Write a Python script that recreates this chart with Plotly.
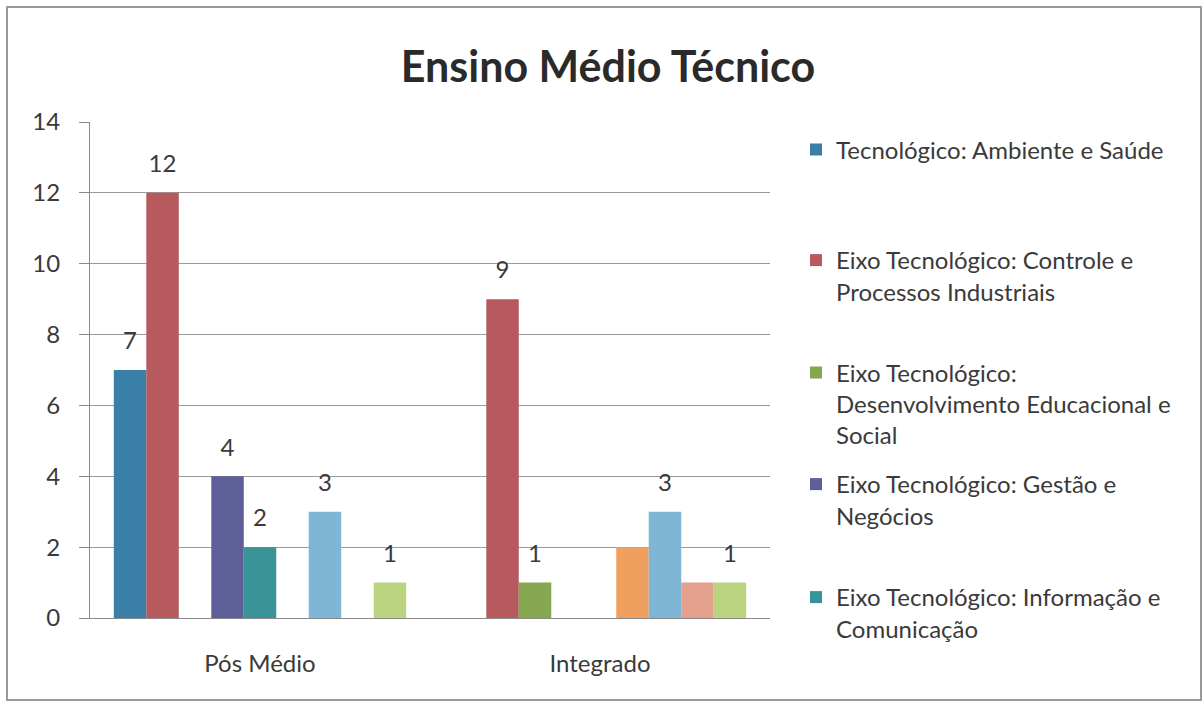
import plotly.graph_objects as go

# ---- data ----
categories = ["Pós Médio", "Integrado"]

series_names = [
    "Tecnológico: Ambiente e Saúde",
    "Eixo Tecnológico: Controle e<br>Processos Industriais",
    "Eixo Tecnológico:<br>Desenvolvimento Educacional e<br>Social",
    "Eixo Tecnológico: Gestão e<br>Negócios",
    "Eixo Tecnológico: Informação e<br>Comunicação",
    "Série 6",
    "Série 7",
    "Série 8",
    "Série 9",
]

ambiente_saude = [7, 0]
controle_processos = [12, 9]
desenvolvimento_educacional = [0, 1]
gestao_negocios = [4, 0]
informacao_comunicacao = [2, 0]
serie_6 = [0, 2]
serie_7 = [3, 3]
serie_8 = [0, 1]
serie_9 = [1, 1]

series_values = [
    ambiente_saude, controle_processos, desenvolvimento_educacional,
    gestao_negocios, informacao_comunicacao, serie_6, serie_7, serie_8, serie_9,
]

# which data labels are visible in the original
label_visible = [
    [True, False],
    [True, True],
    [False, True],
    [True, False],
    [True, False],
    [False, False],
    [True, True],
    [False, False],
    [True, True],
]

y_ticks = [0, 2, 4, 6, 8, 10, 12, 14]

# ---- styles ----
colors = ["#3A7FA8", "#B65A5E", "#84A74F", "#5E5E98", "#3A9396",
          "#EFA05E", "#7FB5D5", "#E3A08D", "#BBD47F"]
FONT = "Lato, 'Open Sans', sans-serif"
TXT = "#3a3a3a"
GAP = 0.14

W, H = 1204, 702
PL, PR, PT, PB = 90, 770, 122, 618  # plot area in pixels

legend_centers_px = [150, 276, 404, 500, 613]

fig = go.Figure()
for i, (name, vals) in enumerate(zip(series_names, series_values)):
    kw = {}
    if i < 5:
        kw["legend"] = "legend" if i == 0 else f"legend{i+1}"
    fig.add_trace(go.Bar(
        x=categories, y=vals, name=name,
        marker=dict(color=colors[i], line=dict(width=0)),
        showlegend=(i < 5), offsetgroup=f"s{i}",
        **kw,
    ))

# data labels: text-only scatter traces grouped the same way as the bars
for i, vals in enumerate(series_values):
    texts = [str(v) if (label_visible[i][j] and v) else "" for j, v in enumerate(vals)]
    fig.add_trace(go.Scatter(
        x=categories, y=vals, mode="markers+text", text=texts,
        textposition="top center",
        textfont=dict(family=FONT, size=24, color=TXT),
        marker=dict(size=22, opacity=0),
        offsetgroup=f"s{i}", showlegend=False, hoverinfo="skip",
        cliponaxis=False,
    ))

def px_x(px):
    return (px - PL) / (PR - PL)

def px_y(py):
    return (PB - py) / (PB - PT)

layout_legends = {}
for i, cy in enumerate(legend_centers_px):
    key = "legend" if i == 0 else f"legend{i+1}"
    layout_legends[key] = dict(
        x=px_x(796), xanchor="left",
        y=px_y(cy), yanchor="middle",
        font=dict(family=FONT, size=24, color=TXT),
        bgcolor="rgba(0,0,0,0)", borderwidth=0,
        itemwidth=30, valign="top",
        tracegroupgap=0,
    )

fig.update_layout(
    width=W, height=H, autosize=False,
    margin=dict(l=PL, r=W - PR, t=PT, b=H - PB, pad=0),
    paper_bgcolor="white", plot_bgcolor="white",
    barmode="group", bargap=GAP, bargroupgap=0,
    scattermode="group", scattergap=GAP,
    title=dict(text="<b>Ensino Médio Técnico</b>",
               font=dict(family=FONT, size=43, color="#2a2a2a"),
               x=608 / W, xanchor="center", xref="container",
               y=1 - 67 / H, yanchor="middle", yref="container"),
    xaxis=dict(showgrid=False, showline=True, linecolor="#8a8a8a", linewidth=1,
               ticks="", tickfont=dict(family=FONT, size=24, color=TXT),
               ticklabelstandoff=24),
    yaxis=dict(range=[0, 14], tickvals=y_ticks, showgrid=True, gridcolor="#9a9a9a",
               gridwidth=1, showline=True, linecolor="#8a8a8a", linewidth=1,
               ticks="outside", ticklen=10, tickcolor="#8a8a8a",
               tickfont=dict(family=FONT, size=24, color=TXT), zeroline=False,
               ticklabelstandoff=14),
    shapes=[dict(type="rect", xref="paper", yref="paper",
                 x0=px_x(7), x1=px_x(1201), y0=px_y(700), y1=px_y(7),
                 line=dict(color="#9a9a9a", width=2), fillcolor="rgba(0,0,0,0)",
                 layer="below")],
    **layout_legends,
)

fig.write_html("out.html")
